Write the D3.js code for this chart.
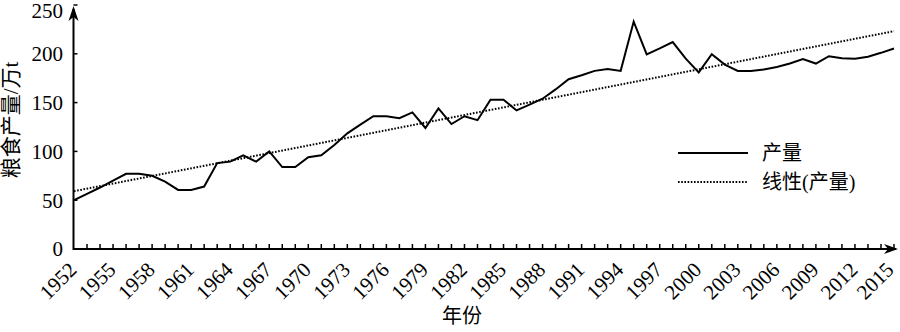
<!DOCTYPE html>
<html><head><meta charset="utf-8">
<script src="https://cdn.jsdelivr.net/npm/d3@7/dist/d3.min.js"></script>
<style>
html,body{margin:0;padding:0;background:#fff;}
text{font-family:"Liberation Serif","Noto Sans CJK SC",serif;fill:#000;}
</style></head>
<body><svg id="c" width="900" height="332"></svg>
<script>
const years = d3.range(1952, 2016);
const output = [50,56.5,63,70,77,77,75,69,60.5,60.5,64,88,89.5,96,89.5,100,84,84,94,96,
  106.5,118.5,127.5,136,136,134,140,124,144,128,136,132,153,153,142,148,154,163.5,174,178,
  182.5,184.5,182.5,233,199.5,205.5,212,195,181,199.5,189,182.5,182.5,184,186.5,190,194.5,190,197.5,195.5,
  195,197,201,205.5];
const yTicks = [0,50,100,150,200,250];
const xLabelYears = d3.range(1952, 2016, 3);
const seriesNames = ["产量","线性(产量)"];
const yTitle = "粮食产量/万t";
const xTitle = "年份";

const svg = d3.select("#c");
const x = d3.scaleLinear().domain([1952,2015]).range([74,894]);
const y = d3.scaleLinear().domain([0,250]).range([249,5]);
const x0 = 73.5, y0 = y(0);

// linear fit
const mx = d3.mean(years), my = d3.mean(output);
let sxy=0, sxx=0;
years.forEach((yr,i)=>{sxy+=(yr-mx)*(output[i]-my); sxx+=(yr-mx)*(yr-mx);});
const slope = sxy/sxx, icpt = my - slope*mx;

// axes
const g = svg.append("g");
g.append("line").attr("x1",x0).attr("x2",896).attr("y1",y0).attr("y2",y0).attr("stroke","#000").attr("stroke-width",2);
g.append("line").attr("x1",x0).attr("x2",x0).attr("y1",y0+1).attr("y2",9).attr("stroke","#000").attr("stroke-width",2);
g.append("path").attr("d",`M${x0},6 L${x0-5},21 L${x0},17 L${x0+5},21 Z`).attr("fill","#000");
g.append("path").attr("d",`M898,${y0} L884,${y0-5} L888,${y0} L884,${y0+5} Z`).attr("fill","#000");

g.selectAll(".xt").data(years.slice(1)).enter().append("line")
  .attr("x1",d=>x(d)).attr("x2",d=>x(d)).attr("y1",y0).attr("y2",y0-5)
  .attr("stroke","#000").attr("stroke-width",1.5);
g.selectAll(".yt").data(yTicks).enter().append("line")
  .attr("x1",x0).attr("x2",x0+4).attr("y1",d=>y(d)).attr("y2",d=>y(d))
  .attr("stroke","#000").attr("stroke-width",1.5);
g.selectAll(".yl").data(yTicks).enter().append("text")
  .attr("x",63).attr("y",d=>Math.max(y(d),11)).attr("dy","0.35em").attr("text-anchor","end")
  .attr("font-size",21).text(d=>d);
g.selectAll(".xl").data(xLabelYears).enter().append("text")
  .attr("text-anchor","end").attr("font-size",21)
  .attr("transform",d=>`translate(${Math.min(x(d)+4,895)},${y0+22}) rotate(-45)`).text(d=>d);

svg.append("text").attr("transform","translate(18,120) rotate(-90)")
  .attr("text-anchor","middle").attr("font-size",21).text(yTitle);
svg.append("text").attr("x",462).attr("y",323).attr("text-anchor","middle")
  .attr("font-size",20).text(xTitle);

svg.append("line").attr("x1",x(1952)).attr("x2",x(2015))
  .attr("y1",y(icpt+slope*1952)).attr("y2",y(icpt+slope*2015))
  .attr("stroke","#000").attr("stroke-width",2).attr("stroke-dasharray","1.6,1.6");
svg.append("path").datum(years.map((yr,i)=>[yr,output[i]]))
  .attr("d",d3.line().x(d=>x(d[0])).y(d=>y(d[1])))
  .attr("fill","none").attr("stroke","#000").attr("stroke-width",2).attr("stroke-linejoin","miter");

const lg = svg.append("g");
lg.append("line").attr("x1",678).attr("x2",748).attr("y1",153).attr("y2",153).attr("stroke","#000").attr("stroke-width",2);
lg.append("line").attr("x1",678).attr("x2",748).attr("y1",182).attr("y2",182).attr("stroke","#000").attr("stroke-width",2).attr("stroke-dasharray","1.6,1.6");
lg.append("text").attr("x",762).attr("y",153).attr("dy","0.35em").attr("font-size",20).text(seriesNames[0]);
lg.append("text").attr("x",762).attr("y",182).attr("dy","0.35em").attr("font-size",20).text(seriesNames[1]);
</script></body></html>
